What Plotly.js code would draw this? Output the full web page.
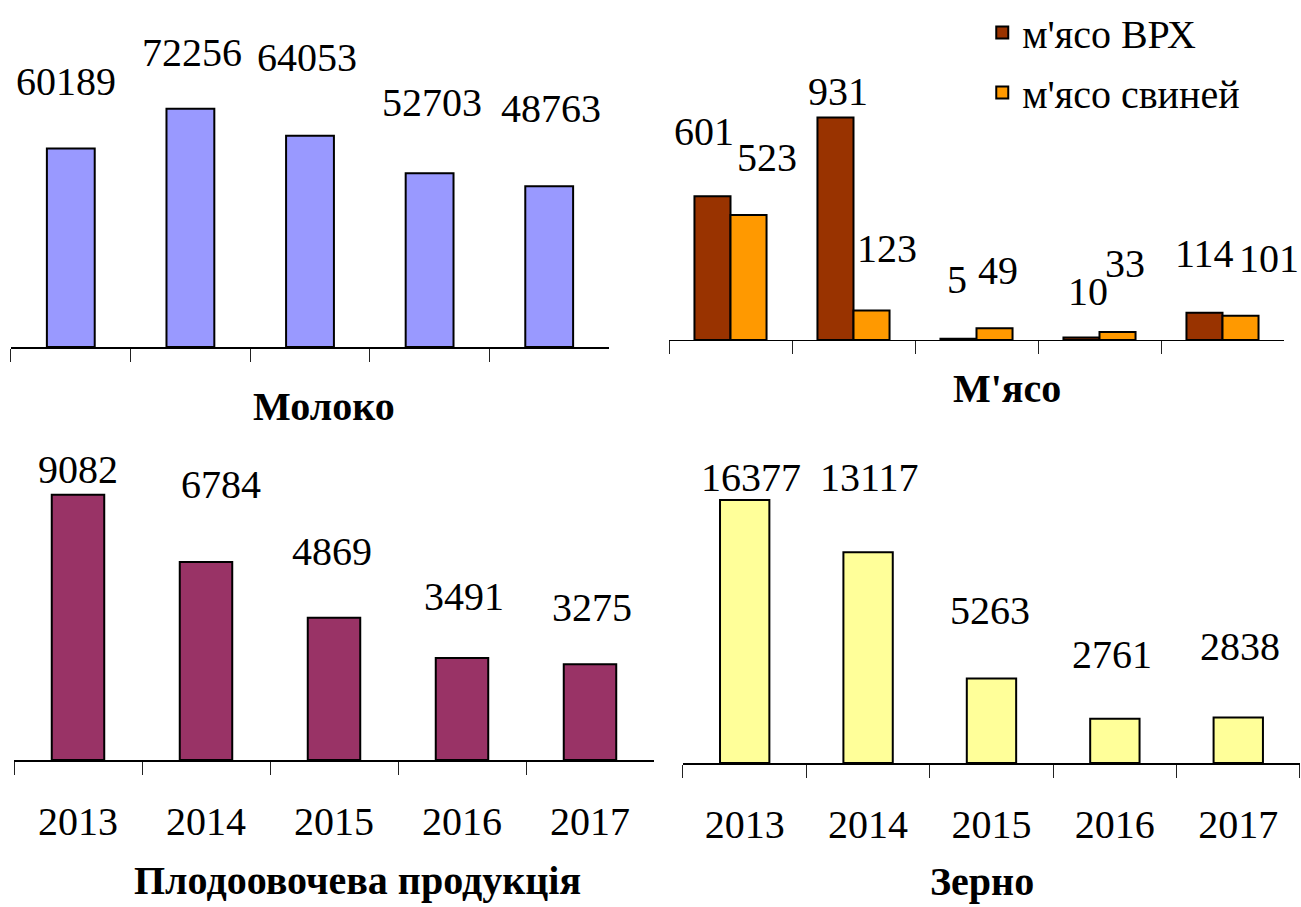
<!DOCTYPE html>
<html>
<head>
<meta charset="utf-8">
<script src="https://cdn.plot.ly/plotly-3.0.1.min.js"></script>
<style>html,body{margin:0;padding:0;background:#fff;}#chart{width:1301px;height:907px;}</style>
</head>
<body>
<div id="chart"></div>
<script>
// ---- data ----
var years = ["2013", "2014", "2015", "2016", "2017"];
var milk = [60189, 72256, 64053, 52703, 48763];
var beefMeat = [601, 931, 5, 10, 114];
var porkMeat = [523, 123, 49, 33, 101];
var fruitVeg = [9082, 6784, 4869, 3491, 3275];
var grain = [16377, 13117, 5263, 2761, 2838];

var titleMilk = "Молоко";
var titleMeat = "М'ясо";
var titleFruit = "Плодоовочева продукція";
var titleGrain = "Зерно";
var nameBeef = "м'ясо ВРХ";
var namePork = "м'ясо свиней";

// ---- label nudges (pixels: [dx, dy above bar top]) ----
var nudgeMilk = [[-5,67],[2,56],[-3,78],[2,71],[2,78]];
var nudgeBeef = [[-9,65],[2,26],[-2,59],[6,46],[0,59]];
var nudgePork = [[18,58],[15,62],[3,58],[7,69],[28,57]];
var nudgeFruit = [[0,25],[15,77],[-2,66],[2,62],[2,57]];
var nudgeGrain = [[6,22],[1,75],[-1,68],[-3,64],[2,71]];

var FONT = "Liberation Serif, Times New Roman, serif";
var LBL = 40;

function bar(y, xa, ya, color, extra) {
  var t = {type: "bar", x: years, y: y, xaxis: xa, yaxis: ya,
    marker: {color: color, line: {color: "#000", width: 2}},
    showlegend: false, hoverinfo: "skip"};
  for (var k in extra) t[k] = extra[k];
  return t;
}

var traces = [
  bar(milk, "x", "y", "#9999FF", {width: 0.4}),
  bar(beefMeat, "x2", "y2", "#993300", {width: 0.293, offset: -0.293, name: nameBeef, showlegend: true, legendgroup: "g1"}),
  bar(porkMeat, "x2", "y2", "#FF9900", {width: 0.293, offset: 0, name: namePork, showlegend: true, legendgroup: "g2"}),
  bar(fruitVeg, "x3", "y3", "#993366", {width: 0.41}),
  bar(grain, "x4", "y4", "#FFFF99", {width: 0.4})
];

var annotations = [];
function labels(vals, xa, ya, nudge, barShift) {
  vals.forEach(function (v, i) {
    annotations.push({x: i, y: v, xref: xa, yref: ya, text: String(v),
      showarrow: false, xanchor: "center", yanchor: "middle",
      xshift: barShift + nudge[i][0], yshift: nudge[i][1],
      font: {family: FONT, size: LBL, color: "#000"}});
  });
}
labels(milk, "x", "y", nudgeMilk, 0);
labels(beefMeat, "x2", "y2", nudgeBeef, -18);
labels(porkMeat, "x2", "y2", nudgePork, 18);
labels(fruitVeg, "x3", "y3", nudgeFruit, 0);
labels(grain, "x4", "y4", nudgeGrain, 0);

function title(text, px, py, size) {
  annotations.push({x: px / 1301, y: 1 - py / 907, xref: "paper", yref: "paper",
    text: "<b>" + text + "</b>", showarrow: false, xanchor: "center", yanchor: "middle",
    font: {family: FONT, size: size, color: "#000"}});
}
title(titleMilk, 324, 406, 40);
title(titleMeat, 1007, 389, 40);
title(titleFruit, 357, 880, 40);
title(titleGrain, 982, 881, 40);

function xax(domain, anchor, showLabels) {
  return {domain: domain, anchor: anchor, type: "category", range: [-0.5, 4.5],
    showline: true, linecolor: "#000", linewidth: 1.5,
    ticks: "outside", tickson: "boundaries", ticklen: 13, tickwidth: 1, tickcolor: "#222",
    showgrid: false, zeroline: false, showticklabels: showLabels,
    ticklabelstandoff: 25,
    tickfont: {family: FONT, size: LBL, color: "#000"}, fixedrange: true};
}
function yax(domain, anchor, max) {
  return {domain: domain, anchor: anchor, range: [0, max], visible: false,
    showgrid: false, zeroline: false, fixedrange: true};
}

var layout = {
  width: 1301, height: 907,
  margin: {l: 0, r: 0, t: 0, b: 0, autoexpand: false},
  paper_bgcolor: "#fff", plot_bgcolor: "rgba(0,0,0,0)",
  barmode: "group",
  font: {family: FONT, color: "#000"},
  xaxis: xax([0.008455, 0.46810], "y", false),
  yaxis: yax([0.61742, 0.97795], "x", 99181),
  xaxis2: xax([0.51422, 0.98693], "y2", false),
  yaxis2: yax([0.62514, 0.97795], "x2", 1339),
  xaxis3: xax([0.010761, 0.50269], "y3", true),
  yaxis3: yax([0.16207, 0.51488], "x3", 10959),
  xaxis4: xax([0.52498, 0.9992], "y4", true),
  yaxis4: yax([0.15876, 0.51488], "x4", 20112),
  legend: {x: 0.755, y: 1.0, xanchor: "left", yanchor: "top",
    bgcolor: "rgba(0,0,0,0)", font: {family: FONT, size: 40, color: "#000"},
    traceorder: "grouped", tracegroupgap: 5, orientation: "v"},
  annotations: annotations
};

Plotly.newPlot("chart", traces, layout, {displayModeBar: false, staticPlot: true});
</script>
</body>
</html>
